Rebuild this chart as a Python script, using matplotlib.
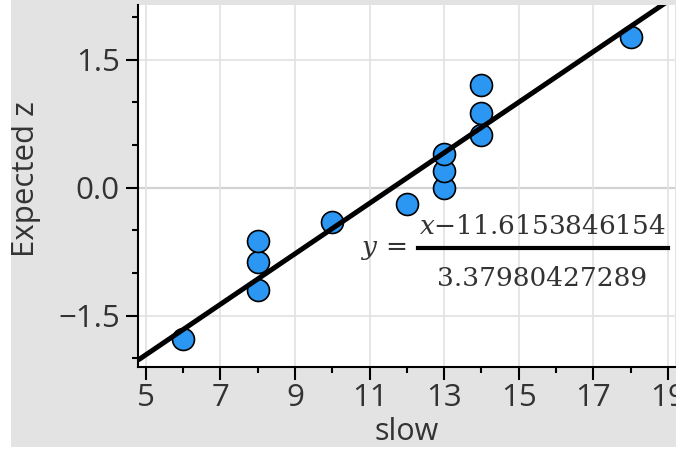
import matplotlib
matplotlib.use("Agg")
import matplotlib.pyplot as plt
from matplotlib.patches import Rectangle
from matplotlib.ticker import MultipleLocator

# normal probability plot of "slow"
slow = [6, 8, 8, 8, 10, 12, 13, 13, 13, 14, 14, 14, 18]
expected_z = [-1.77, -1.20, -0.87, -0.62, -0.40, -0.19, 0.0, 0.19, 0.40, 0.62, 0.87, 1.20, 1.77]

# fitted line  y = (x - mean) / sd
mean = 11.6153846154
sd = 3.37980427289

x_ticks = [5, 7, 9, 11, 13, 15, 17, 19]
y_ticks = [-1.5, 0.0, 1.5]

plt.rcParams['font.family'] = ['Open Sans', 'DejaVu Sans']
plt.rcParams['mathtext.fontset'] = 'dejavuserif'

fig = plt.figure(figsize=(6.86, 4.5), dpi=100, facecolor='#e3e3e3')
ax = fig.add_axes([138 / 686, 1 - 367 / 450, (675 - 138) / 686, (367 - 5) / 450])
ax.set_facecolor('white')

ax.set_xlim(4.79, 19.19)
ax.set_ylim(-2.10, 2.14)

ax.set_xticks(x_ticks)
ax.xaxis.set_minor_locator(MultipleLocator(1))
ax.set_yticks(y_ticks)
ax.set_yticklabels(['\u22121.5', '0.0', '1.5'])
ax.yaxis.set_minor_locator(MultipleLocator(0.5))

ax.grid(True, which='major', color='#e2e2e2', lw=1.2, zorder=0)
ax.axhline(0, color='#8c8c8c', lw=1.5, zorder=1)

for side in ['top', 'right']:
    ax.spines[side].set_visible(False)
for side in ['left', 'bottom']:
    ax.spines[side].set_linewidth(1.5)

ax.tick_params(which='major', length=9, width=1.5, labelsize=22.5, colors='black',
               labelcolor='#333333', pad=4)
ax.tick_params(axis='x', which='major', pad=2.5)
ax.tick_params(which='minor', length=4.5, width=1.5, colors='black')

ax.scatter(slow, expected_z, s=250, color='#2b97f3', edgecolor='black',
           linewidth=1.2, zorder=3)

xs = [4.79, 19.19]
ys = [(v - mean) / sd for v in xs]
ax.plot(xs, ys, color='black', lw=3.6, zorder=4, solid_capstyle='butt')

ax.set_xlabel('slow', fontsize=22, color='#333333', labelpad=3)
ax.set_ylabel('Expected z', fontsize=22.5, color='#333333')
ax.yaxis.set_label_coords(-0.181, 0.52)

# equation of the fitted line
serif = ['DejaVu Serif']
fig.text(542 / 686, 1 - 227 / 450, '$x$\u221211.6153846154', family=serif,
         fontsize=19, color='#333333', ha='center', va='center')
fig.text(542 / 686, 1 - 278 / 450, '3.37980427289', family=serif,
         fontsize=19, color='#333333', ha='center', va='center')
fig.add_artist(plt.Line2D([418 / 686, 668 / 686], [1 - 248 / 450, 1 - 248 / 450],
                          color='black', lw=3, transform=fig.transFigure))
fig.text(384 / 686, 1 - 250 / 450, '$y$ =', family=serif,
         fontsize=19, color='#333333', ha='center', va='center')

# white margins around the gray panel
for x0, y0, w, h in [(0, 0, 11 / 686, 1), (676 / 686, 0, 1, 1), (0, 0, 1, 3 / 450)]:
    fig.add_artist(Rectangle((x0, y0), w, h, transform=fig.transFigure,
                             facecolor='white', edgecolor='none', zorder=10))

fig.savefig('out.png', dpi=100, facecolor=fig.get_facecolor())
